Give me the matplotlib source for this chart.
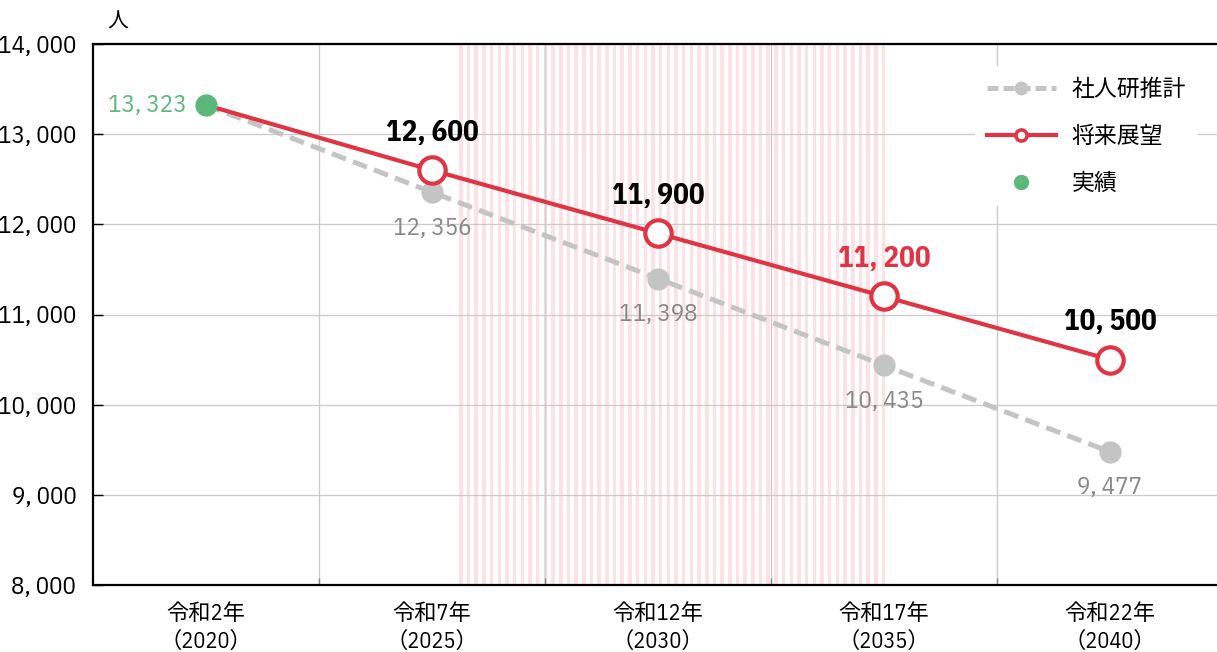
import numpy as np
import matplotlib
matplotlib.use("Agg")
import matplotlib.pyplot as plt
from matplotlib.lines import Line2D

NUMFONT = ['IBM Plex Sans Condensed', 'Noto Sans CJK JP', 'DejaVu Sans']
CJKFONT = ['IBM Plex Sans Condensed', 'Noto Sans CJK JP', 'DejaVu Sans']
plt.rcParams['font.family'] = NUMFONT

categories = ["令和2年\n（2020）", "令和7年\n（2025）", "令和12年\n（2030）", "令和17年\n（2035）", "令和22年\n（2040）"]
ipss = [13323, 12356, 11398, 10435, 9477]
outlook = [13323, 12600, 11900, 11200, 10500]
actual = [13323]
outlook_label_colors = ["black", "black", "#e03444", "black"]

GRAY = "#c4c4c4"
RED = "#e03444"
GREEN = "#5cb87a"

fig = plt.figure(figsize=(12.17, 6.52), dpi=100)
ax = fig.add_axes([93/1217, 1 - 585/652, 1 - 93/1217, (585 - 44)/652])
x = np.arange(len(categories))

ax.set_xlim(-0.5, -0.5 + (1217 - 93) / 226)
ax.set_ylim(8000, 14000)

# striped band
for s in np.arange(1.12, 3.01, 0.034):
    ax.axvspan(s, s + 0.0155, color="#fde2e5", lw=0, zorder=0)

def fmt(v):
    return f"{v:,}".replace(",", ",\u2009")

yt = np.arange(8000, 14001, 1000)
ax.set_yticks(yt)
ax.set_yticklabels([fmt(v) for v in yt], fontsize=18)
ax.set_xticks(x)
ax.set_xticklabels(categories, fontsize=16, family=CJKFONT, linespacing=1.35)
ax.set_xticks(x[:-1] + 0.5, minor=True)
ax.tick_params(axis='x', which='major', length=0, pad=13)
ax.tick_params(axis='x', which='minor', direction='in', length=5, width=1, color='#888888')
ax.tick_params(axis='y', direction='in', length=7, width=1, pad=12)
ax.grid(axis='y', color="#cccccc", lw=1, zorder=1)
ax.grid(axis='x', which='minor', color="#cccccc", lw=1, zorder=1)
ax.set_axisbelow(True)
for sp in ['top', 'left', 'bottom']:
    ax.spines[sp].set_linewidth(1.6)
    ax.spines[sp].set_color('black')
ax.spines['right'].set_visible(False)

ax.plot(x, ipss, color=GRAY, lw=3.6, dashes=(3, 1.5), marker='o', ms=15, mec=GRAY, mfc=GRAY,
        markevery=[1, 2, 3, 4], zorder=3, dash_capstyle='butt')
ax.plot(x, outlook, color=RED, lw=3, marker='o', ms=19, mfc='white', mec=RED, mew=3,
        markevery=[1, 2, 3, 4], zorder=4)
ax.plot(x[:1], actual, 'o', color=GREEN, ms=15, zorder=5)

for i in range(1, 5):
    ax.annotate(fmt(outlook[i]), (x[i], outlook[i]), xytext=(0, 27),
                textcoords='offset points', ha='center', va='center', fontsize=21,
                fontweight='bold', color=outlook_label_colors[i - 1])
    ax.annotate(fmt(ipss[i]), (x[i], ipss[i]), xytext=(0, -26),
                textcoords='offset points', ha='center', va='center', fontsize=18,
                color="#888888")
ax.annotate(fmt(actual[0]), (x[0], actual[0]), xytext=(-14, 0),
            textcoords='offset points', ha='right', va='center', fontsize=18, color=GREEN)

fig.text(118/1217, 1 - 22/652, "人", fontsize=15, family=['Noto Sans CJK JP'], ha='center', va='center')

handles = [
    Line2D([], [], color=GRAY, lw=3.6, dashes=(2.2, 1), marker='o', ms=9, mfc=GRAY, mec=GRAY),
    Line2D([], [], color=RED, lw=3, marker='o', ms=8, mfc='white', mec=RED, mew=2.5),
    Line2D([], [], color=GREEN, lw=0, marker='o', ms=10),
]
leg = ax.legend(handles, ["社人研推計", "将来展望", "実績"], loc='upper right',
                bbox_to_anchor=(1209/1217, 1 - 55/652), bbox_transform=fig.transFigure,
                frameon=True, framealpha=1, edgecolor='none', facecolor='white',
                prop={'family': 'Noto Sans CJK JP', 'size': 16.5}, handlelength=3.0,
                labelspacing=1.05, borderpad=0.5, handletextpad=0.7, fancybox=False)
leg.set_zorder(10)

fig.savefig("out.png", dpi=100)
